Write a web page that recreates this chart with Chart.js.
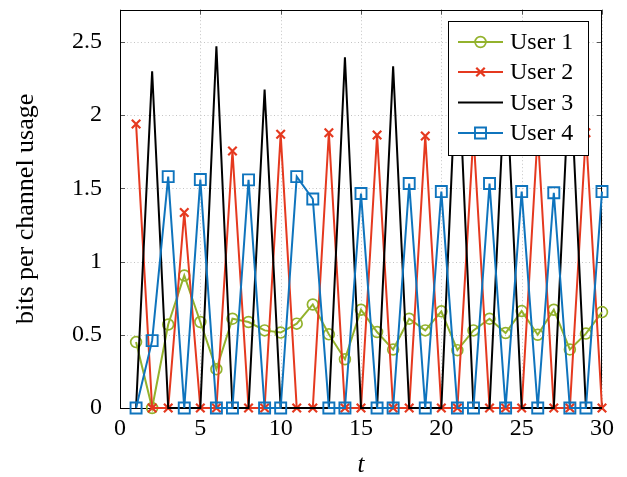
<!DOCTYPE html>
<html>
<head>
<meta charset="utf-8">
<script src="https://cdn.jsdelivr.net/npm/chart.js@4/dist/chart.umd.min.js"></script>
<style>
  html, body { margin: 0; padding: 0; background: #fff; }
  canvas { display: block; }
</style>
</head>
<body>
<canvas id="c" width="627" height="477"></canvas>
<script>
// Time slots and per-user rates (bits per channel usage)
const timeSlots = [1, 2, 3, 4, 5, 6, 7, 8, 9, 10, 11, 12, 13, 14, 15,
                   16, 17, 18, 19, 20, 21, 22, 23, 24, 25, 26, 27, 28, 29, 30];

const user1 = [0.45, 0.00, 0.57, 0.905, 0.587, 0.265, 0.61, 0.587, 0.53, 0.515,
               0.576, 0.707, 0.503, 0.333, 0.671, 0.519, 0.399, 0.61, 0.53, 0.66,
               0.395, 0.53, 0.61, 0.512, 0.662, 0.50, 0.671, 0.40, 0.508, 0.655];

const user2 = [1.94, 0, 0, 1.335, 0, 0, 1.755, 0, 0, 1.87,
               0, 0, 1.88, 0, 0, 1.864, 0, 0, 1.857, 0,
               0, 1.87, 0, 0, 0, 1.88, 0, 0, 1.88, 0];

const user3 = [0, 2.30, 0, 0, 0, 2.47, 0, 0, 2.175, 0,
               0, 0, 0, 2.395, 0, 0, 2.333, 0, 0, 0,
               2.50, 0, 0, 2.33, 0, 0, 0, 2.33, 0, 0];

const user4 = [0, 0.46, 1.58, 0, 1.56, 0, 0, 1.558, 0, 0,
               1.58, 1.427, 0, 0, 1.465, 0, 0, 1.533, 0, 1.478,
               0, 0, 1.533, 0, 1.478, 0, 1.47, 0, 0, 1.478];

const seriesNames = ['User 1', 'User 2', 'User 3', 'User 4'];
const xTicks = [0, 5, 10, 15, 20, 25, 30];
const yTicks = [0, 0.5, 1, 1.5, 2, 2.5];

const GREEN = '#93b22c';
const RED = '#e5391f';
const BLACK = '#000000';
const BLUE = '#0f74bd';
const SERIF = '"Liberation Serif", "DejaVu Serif", serif';

const toPoints = vals => vals.map((v, i) => ({ x: timeSlots[i], y: v }));

// Frame, dotted grid and inward tick marks around the plot area
function drawFrame(chart) {
  const { ctx, chartArea: a, scales: { x, y } } = chart;
  ctx.save();
  ctx.lineWidth = 1;
  ctx.strokeStyle = '#c4c4c4';
  ctx.setLineDash([1, 2.5]);
  x.ticks.forEach(t => {
    const px = Math.round(x.getPixelForValue(t.value)) + 0.5;
    ctx.beginPath(); ctx.moveTo(px, a.top); ctx.lineTo(px, a.bottom); ctx.stroke();
  });
  y.ticks.forEach(t => {
    const py = Math.round(y.getPixelForValue(t.value)) + 0.5;
    ctx.beginPath(); ctx.moveTo(a.left, py); ctx.lineTo(a.right, py); ctx.stroke();
  });
  ctx.setLineDash([]);
  ctx.strokeStyle = '#555';
  const len = 5;
  x.ticks.forEach(t => {
    const px = Math.round(x.getPixelForValue(t.value)) + 0.5;
    ctx.beginPath();
    ctx.moveTo(px, a.bottom); ctx.lineTo(px, a.bottom - len);
    ctx.moveTo(px, a.top); ctx.lineTo(px, a.top + len);
    ctx.stroke();
  });
  y.ticks.forEach(t => {
    const py = Math.round(y.getPixelForValue(t.value)) + 0.5;
    ctx.beginPath();
    ctx.moveTo(a.left, py); ctx.lineTo(a.left + len, py);
    ctx.moveTo(a.right, py); ctx.lineTo(a.right - len, py);
    ctx.stroke();
  });
  ctx.strokeStyle = '#000';
  ctx.strokeRect(Math.round(a.left) + 0.5, Math.round(a.top) + 0.5,
                 Math.round(a.width) - 1, Math.round(a.height));
  ctx.restore();
}

function drawMarker(ctx, style, cx, cy, r) {
  ctx.beginPath();
  if (style === 'circle') {
    ctx.arc(cx, cy, r, 0, Math.PI * 2);
  } else if (style === 'crossRot') {
    const d = r * Math.SQRT1_2;
    ctx.moveTo(cx - d, cy - d); ctx.lineTo(cx + d, cy + d);
    ctx.moveTo(cx + d, cy - d); ctx.lineTo(cx - d, cy + d);
  } else if (style === 'rect') {
    const s = r * Math.SQRT1_2;
    ctx.rect(cx - s, cy - s, 2 * s, 2 * s);
  }
  ctx.stroke();
}

// Boxed legend in the upper right corner of the plot
function drawLegend(chart) {
  const { ctx } = chart;
  const box = { x: 448.5, y: 21.5, w: 140, h: 134 };
  ctx.save();
  ctx.fillStyle = '#fff';
  ctx.fillRect(box.x, box.y, box.w, box.h);
  ctx.strokeStyle = '#000';
  ctx.lineWidth = 1;
  ctx.strokeRect(box.x, box.y, box.w, box.h);
  const rowY = [42, 72, 102.5, 133];
  chart.data.datasets.forEach((ds, i) => {
    const cy = rowY[i];
    ctx.strokeStyle = ds.borderColor;
    ctx.lineWidth = ds.borderWidth;
    ctx.beginPath(); ctx.moveTo(458, cy); ctx.lineTo(503, cy); ctx.stroke();
    if (ds.pointRadius > 0) {
      ctx.lineWidth = ds.pointBorderWidth;
      drawMarker(ctx, ds.pointStyle, 480.5, cy, ds.pointRadius);
    }
    ctx.fillStyle = '#000';
    ctx.font = '24px ' + SERIF;
    ctx.textAlign = 'left';
    ctx.textBaseline = 'middle';
    ctx.fillText(ds.label, 510, cy + 1);
  });
  ctx.restore();
}

const decor = {
  id: 'decor',
  beforeDatasetsDraw: drawFrame,
  afterDraw: drawLegend
};

const datasets = [
  { label: seriesNames[0], data: toPoints(user1), borderColor: GREEN, borderWidth: 2,
    pointStyle: 'circle', pointRadius: 5.4, pointBorderWidth: 1.7, order: 4 },
  { label: seriesNames[1], data: toPoints(user2), borderColor: RED, borderWidth: 2,
    pointStyle: 'crossRot', pointRadius: 6, pointBorderWidth: 2.2, order: 3 },
  { label: seriesNames[2], data: toPoints(user3), borderColor: BLACK, borderWidth: 2,
    pointStyle: 'circle', pointRadius: 0, pointBorderWidth: 0, order: 2 },
  { label: seriesNames[3], data: toPoints(user4), borderColor: BLUE, borderWidth: 2,
    pointStyle: 'rect', pointRadius: 7.8, pointBorderWidth: 1.9, order: 1 }
].map(d => Object.assign(d, {
  backgroundColor: 'rgba(0,0,0,0)',
  pointBackgroundColor: 'rgba(0,0,0,0)',
  pointBorderColor: d.borderColor,
  pointHoverRadius: d.pointRadius,
  fill: false,
  tension: 0,
  clip: false
}));

new Chart(document.getElementById('c'), {
  type: 'line',
  data: { datasets },
  options: {
    responsive: false,
    animation: false,
    devicePixelRatio: 1,
    layout: { padding: { left: 0, top: 8, right: 25, bottom: 0 } },
    plugins: { legend: { display: false }, tooltip: { enabled: false } },
    scales: {
      x: {
        type: 'linear', min: 0, max: 30,
        afterBuildTicks: s => { s.ticks = xTicks.map(v => ({ value: v })); },
        afterFit: s => { s.height = 69; s.paddingLeft = 0; s.paddingRight = 0; },
        grid: { display: false },
        border: { display: false },
        ticks: { color: '#000', padding: 1, maxRotation: 0,
                 font: { family: SERIF, size: 24, lineHeight: 1.0 },
                 callback: v => String(v) },
        title: { display: true, text: 't', color: '#000',
                 font: { family: SERIF, size: 25, style: 'italic', lineHeight: 0.9 },
                 padding: { top: 0, bottom: 0 } }
      },
      y: {
        type: 'linear', min: 0, max: 2.72,
        afterBuildTicks: s => { s.ticks = yTicks.map(v => ({ value: v })); },
        afterFit: s => { s.width = 120; s.paddingTop = 0; s.paddingBottom = 0; },
        grid: { display: false },
        border: { display: false },
        ticks: { color: '#000', padding: 10,
                 font: { family: SERIF, size: 24, lineHeight: 1.0 },
                 callback: v => String(v) },
        title: { display: true, text: 'bits per channel usage', color: '#000',
                 font: { family: SERIF, size: 26, lineHeight: 1.2 },
                 padding: { top: 11, bottom: 0 } }
      }
    }
  },
  plugins: [decor]
});
</script>
</body>
</html>
